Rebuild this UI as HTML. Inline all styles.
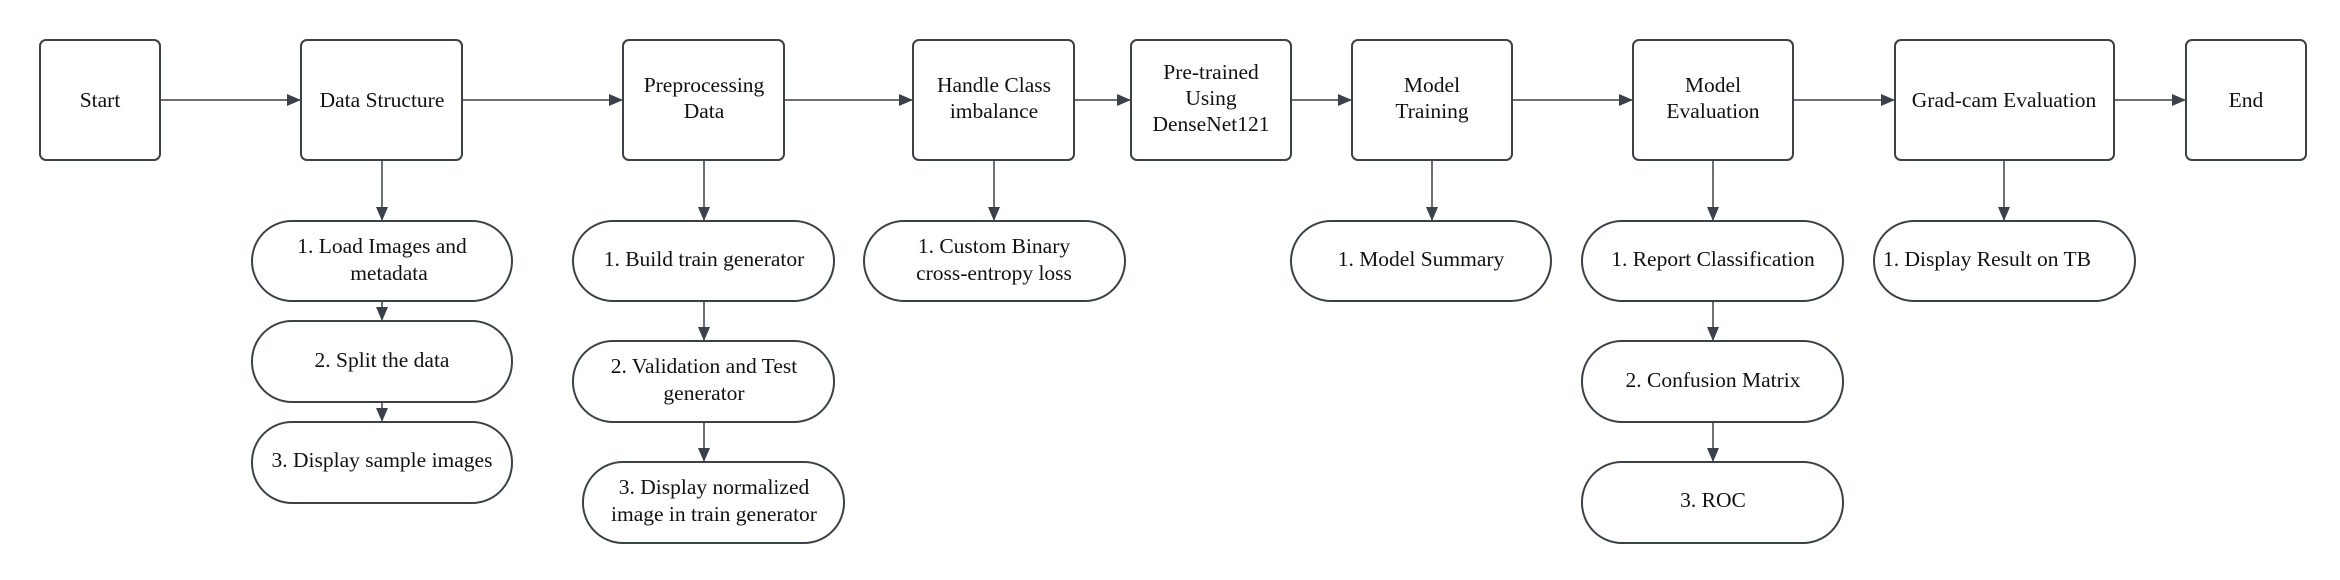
<!DOCTYPE html>
<html><head><meta charset="utf-8"><style>
html,body{margin:0;padding:0;background:#fff;}
svg{display:block}
text{font-family:"Liberation Serif",serif;font-size:21.5px;fill:#111;text-anchor:middle;}
</style></head><body>
<svg width="2340" height="580" viewBox="0 0 2340 580" xmlns="http://www.w3.org/2000/svg">
<defs><marker id="a" markerWidth="14" markerHeight="12" refX="13" refY="6" orient="auto" markerUnits="userSpaceOnUse"><path d="M0,0 L14,6 L0,12 z" fill="#3a414a"/></marker></defs>
<g fill="none" stroke="#3a414a" stroke-width="2">
<rect x="40" y="40" width="120" height="120" rx="6"/>
<rect x="301" y="40" width="161" height="120" rx="6"/>
<rect x="623" y="40" width="161" height="120" rx="6"/>
<rect x="913" y="40" width="161" height="120" rx="6"/>
<rect x="1131" y="40" width="160" height="120" rx="6"/>
<rect x="1352" y="40" width="160" height="120" rx="6"/>
<rect x="1633" y="40" width="160" height="120" rx="6"/>
<rect x="1895" y="40" width="219" height="120" rx="6"/>
<rect x="2186" y="40" width="120" height="120" rx="6"/>
<rect x="252" y="221" width="260" height="80" rx="40"/>
<rect x="252" y="321" width="260" height="81" rx="40"/>
<rect x="252" y="422" width="260" height="81" rx="40"/>
<rect x="573" y="221" width="261" height="80" rx="40"/>
<rect x="573" y="341" width="261" height="81" rx="40"/>
<rect x="583" y="462" width="261" height="81" rx="40"/>
<rect x="864" y="221" width="261" height="80" rx="40"/>
<rect x="1291" y="221" width="260" height="80" rx="40"/>
<rect x="1582" y="221" width="261" height="80" rx="40"/>
<rect x="1582" y="341" width="261" height="81" rx="40"/>
<rect x="1582" y="462" width="261" height="81" rx="40"/>
<rect x="1874" y="221" width="261" height="80" rx="40"/>
</g>
<g stroke="#3a414a" stroke-width="1.5" marker-end="url(#a)">
<line x1="161" y1="100" x2="300" y2="100"/>
<line x1="463" y1="100" x2="622" y2="100"/>
<line x1="785" y1="100" x2="912" y2="100"/>
<line x1="1075" y1="100" x2="1130" y2="100"/>
<line x1="1292" y1="100" x2="1351" y2="100"/>
<line x1="1513" y1="100" x2="1632" y2="100"/>
<line x1="1794" y1="100" x2="1894" y2="100"/>
<line x1="2115" y1="100" x2="2185" y2="100"/>
<line x1="382" y1="161" x2="382" y2="220"/>
<line x1="382" y1="302" x2="382" y2="320"/>
<line x1="382" y1="403" x2="382" y2="421"/>
<line x1="704" y1="161" x2="704" y2="220"/>
<line x1="704" y1="302" x2="704" y2="340"/>
<line x1="704" y1="423" x2="704" y2="461"/>
<line x1="994" y1="161" x2="994" y2="220"/>
<line x1="1432" y1="161" x2="1432" y2="220"/>
<line x1="1713" y1="161" x2="1713" y2="220"/>
<line x1="1713" y1="302" x2="1713" y2="340"/>
<line x1="1713" y1="423" x2="1713" y2="461"/>
<line x1="2004" y1="161" x2="2004" y2="220"/>
</g>
<text x="100" y="107">Start</text>
<text x="382" y="107">Data Structure</text>
<text x="704" y="92">Preprocessing</text><text x="704" y="118">Data</text>
<text x="994" y="92">Handle Class</text><text x="994" y="118">imbalance</text>
<text x="1211" y="79">Pre-trained</text><text x="1211" y="105">Using</text><text x="1211" y="131">DenseNet121</text>
<text x="1432" y="92">Model</text><text x="1432" y="118">Training</text>
<text x="1713" y="92">Model</text><text x="1713" y="118">Evaluation</text>
<text x="2004" y="107">Grad-cam Evaluation</text>
<text x="2246" y="107">End</text>
<text x="382" y="253">1. Load Images and</text><text x="389" y="280">metadata</text>
<text x="382" y="367">2. Split the data</text>
<text x="382" y="467">3. Display sample images</text>
<text x="704" y="266">1. Build train generator</text>
<text x="704" y="373">2. Validation and Test</text><text x="704" y="400">generator</text>
<text x="714" y="494">3. Display normalized</text><text x="714" y="521">image in train generator</text>
<text x="994" y="253">1. Custom Binary</text><text x="994" y="280">cross-entropy loss</text>
<text x="1421" y="266">1. Model Summary</text>
<text x="1713" y="266">1. Report Classification</text>
<text x="1713" y="387">2. Confusion Matrix</text>
<text x="1713" y="507">3. ROC</text>
<text x="1987" y="266">1. Display Result on TB</text>
</svg>
</body></html>
